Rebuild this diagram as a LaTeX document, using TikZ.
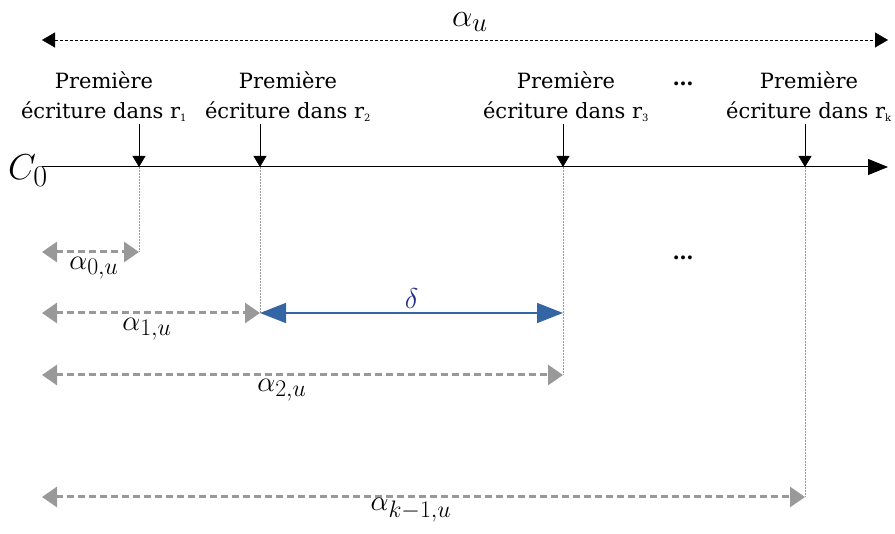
\documentclass[tikz,border=0pt]{standalone}
\usepackage{fontspec}
\setmainfont{DejaVu Serif}
\usepackage{tikz}
\usetikzlibrary{arrows.meta, positioning}
\definecolor{gris}{HTML}{999999}
\definecolor{bleu}{HTML}{3465A4}
\definecolor{marine}{HTML}{1F2A8C}
\newcommand{\idx}[1]{\textsubscript{\fontsize{10}{10}\selectfont #1}}

\begin{document}
\begin{tikzpicture}[x=1pt, y=-1pt,
    every node/.style={font=\fontsize{21}{30}\selectfont},
    lab/.style={align=center, inner sep=0pt},
    mth/.style={font=\Huge, scale=1.15},
    tick/.style={-{Triangle[length=11pt, width=13pt]}, thick},
    guide/.style={gris, densely dotted, line width=0.5pt},
    span/.style={{Triangle[length=15pt, width=20pt]}-{Triangle[length=15pt, width=20pt]},
                 gris, line width=3pt, dash pattern=on 7pt off 4pt},
    axe/.style={-{Triangle[length=20pt, width=16pt]}, line width=1pt},
    delta/.style={{Triangle[length=26pt, width=20pt]}-{Triangle[length=26pt, width=20pt]},
                  bleu, line width=1.5pt}
]
    \useasboundingbox (0,0) rectangle (895,534);

    % axe du temps
    \coordinate (o)   at (42, 167);
    \coordinate (fin) at (888, 167);
    \node[font=\Huge, scale=1.45] (c0) at (28, 171) {$C_0$};
    \draw[axe] (o) -- (fin);

    % alpha_u
    \coordinate (ua) at (42, 40);
    \coordinate (ub) at (888, 40);
    \node[font=\Huge, scale=1.3, inner sep=0pt] (au) at (470, 22) {$\alpha_u$};
    \draw[{Triangle[length=13pt, width=15pt]}-{Triangle[length=13pt, width=15pt]}, densely dashed] (ua) -- (ub);

    % premieres ecritures
    \node[lab] (l1) at (104, 97) {Première\\écriture dans r\idx{1}};
    \node[lab] (l2) at (288, 97) {Première\\écriture dans r\idx{2}};
    \node[lab] (l3) at (566, 97) {Première\\écriture dans r\idx{3}};
    \node[lab] (lk) at (809, 97) {Première\\écriture dans r\idx{k}};
    \node (pts1) at (683, 84) {\textbf{\dots}};

    \coordinate (t1) at (139, 167);
    \coordinate (t2) at (260, 167);
    \coordinate (t3) at (563, 167);
    \coordinate (tk) at (805, 167);
    \draw[tick] (139, 124) -- (t1);
    \draw[tick] (260, 124) -- (t2);
    \draw[tick] (563, 124) -- (t3);
    \draw[tick] (805, 124) -- (tk);

    % distances
    \coordinate (s0) at (42, 252);  \coordinate (e0) at (139, 252);
    \coordinate (s1) at (42, 313);  \coordinate (e1) at (260, 313);
    \coordinate (s2) at (42, 375);  \coordinate (e2) at (563, 375);
    \coordinate (sk) at (42, 497);  \coordinate (ek) at (805, 497);
    \coordinate (d3) at (563, 313);

    \draw[guide] (t1) -- (e0);
    \draw[guide] (t2) -- (e1);
    \draw[guide] (t3) -- (e2);
    \draw[guide] (tk) -- (ek);

    \draw[span] (s0) -- (e0);
    \draw[span] (s1) -- (e1);
    \draw[span] (s2) -- (e2);
    \draw[span] (sk) -- (ek);
    \draw[delta] (e1) -- node[above=0pt, text=marine, font=\Huge, scale=1.15] (dl) {$\delta$} (d3);

    \node[mth] (a0) at (94, 268)  {$\alpha_{0,u}$};
    \node[mth] (a1) at (147, 329) {$\alpha_{1,u}$};
    \node[mth] (a2) at (282, 390) {$\alpha_{2,u}$};
    \node[mth] (ak) at (411, 510) {$\alpha_{k-1,u}$};
    \node (pts2) at (683, 258) {\textbf{\dots}};
\end{tikzpicture}
\end{document}
